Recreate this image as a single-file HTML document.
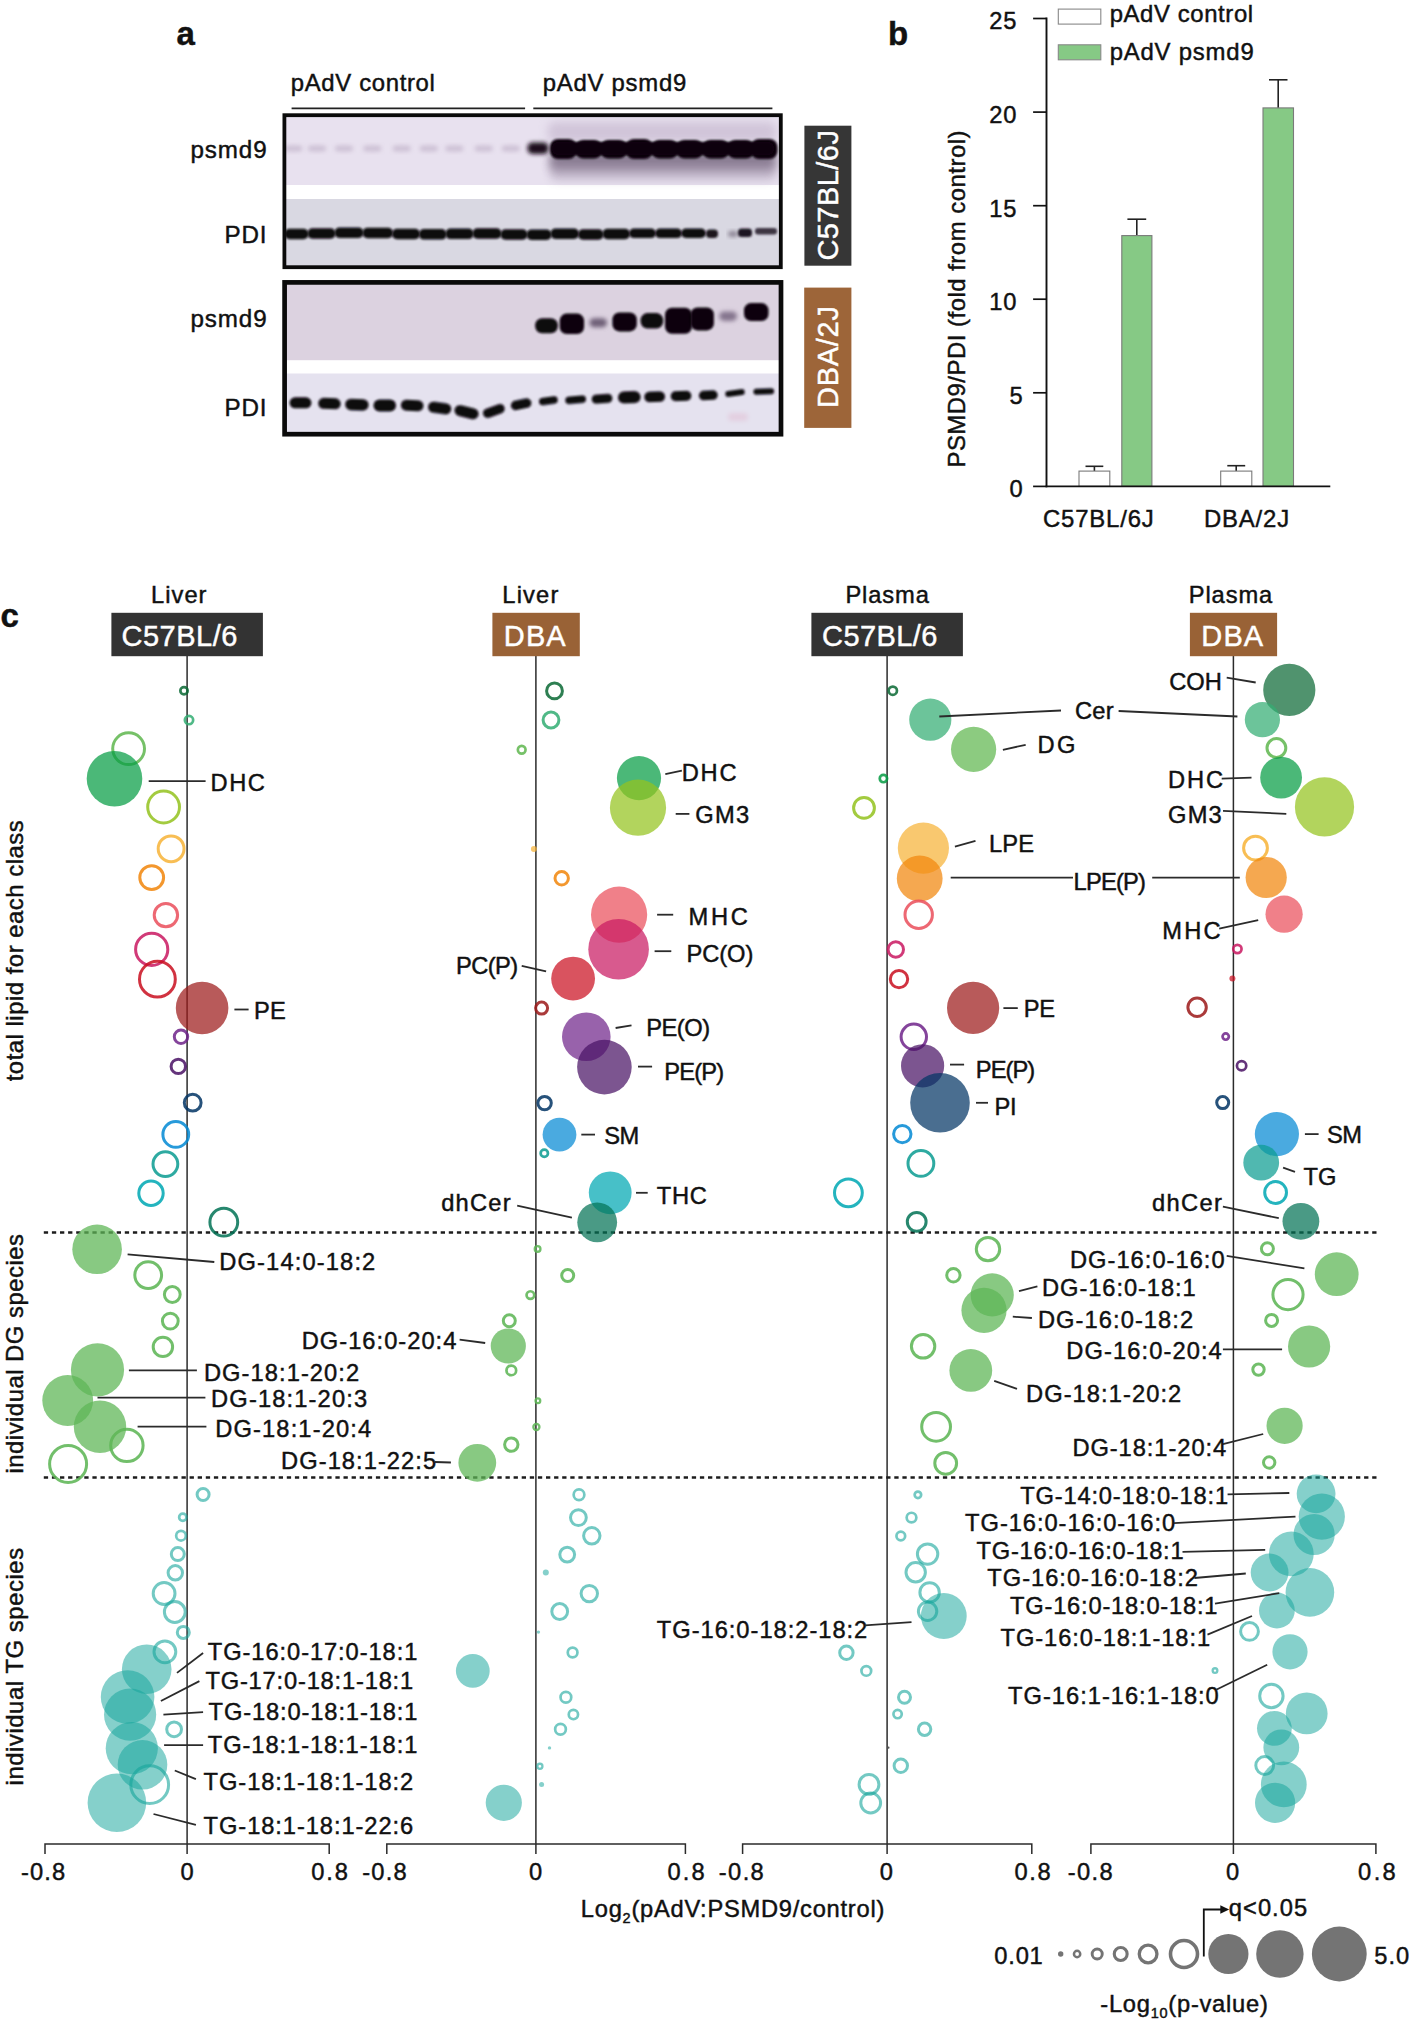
<!DOCTYPE html>
<html><head><meta charset="utf-8"><title>Figure</title>
<style>
html,body{margin:0;padding:0;background:#fff;}
svg{display:block;font-family:"Liberation Sans",Arial,Helvetica,sans-serif;}
text{stroke:#111;stroke-width:.45px;}
text.w{stroke:#fff;}
</style></head><body>
<svg width="1409" height="2025" viewBox="0 0 1409 2025">
<defs>
<filter id="b1" x="-20%" y="-50%" width="140%" height="200%"><feGaussianBlur stdDeviation="1.3"/></filter>
<filter id="b2" x="-20%" y="-50%" width="140%" height="200%"><feGaussianBlur stdDeviation="2.2"/></filter>
<filter id="b3" x="-20%" y="-80%" width="140%" height="260%"><feGaussianBlur stdDeviation="5"/></filter>
<clipPath id="cpA"><rect x="284" y="115" width="497" height="152"/></clipPath>
<clipPath id="cpB"><rect x="284" y="282" width="497" height="152"/></clipPath>
</defs>
<rect width="1409" height="2025" fill="#fff"/>
<text x="176.5" y="44.7" font-size="33" font-weight="bold" fill="#111">a</text>
<text x="888" y="44.7" font-size="33" font-weight="bold" fill="#111">b</text>
<text x="0.5" y="627" font-size="33" font-weight="bold" fill="#111">c</text>
<text x="290.8" y="91.2" font-size="23.9" fill="#111" textLength="144.0" lengthAdjust="spacing">pAdV control</text>
<text x="542.8" y="91.0" font-size="23.9" fill="#111" textLength="143.4" lengthAdjust="spacing">pAdV psmd9</text>
<line x1="291.6" y1="108.4" x2="525.1" y2="108.4" stroke="#222" stroke-width="1.8"/>
<line x1="533.3" y1="108.4" x2="772.4" y2="108.4" stroke="#222" stroke-width="1.8"/>
<text x="190.4" y="157.9" font-size="24.2" fill="#111" textLength="76.2" lengthAdjust="spacing">psmd9</text>
<text x="224.5" y="243.1" font-size="24.2" fill="#111" textLength="41.9" lengthAdjust="spacing">PDI</text>
<text x="190.4" y="327.0" font-size="24.2" fill="#111" textLength="76.2" lengthAdjust="spacing">psmd9</text>
<text x="224.5" y="415.9" font-size="24.2" fill="#111" textLength="41.9" lengthAdjust="spacing">PDI</text>
<g clip-path="url(#cpA)">
<rect x="284" y="115" width="497" height="71" fill="#e8e1ef"/>
<rect x="284" y="185" width="497" height="14.5" fill="#ffffff"/>
<rect x="284" y="199" width="497" height="68" fill="#d9d8e2"/>
<rect x="284.3" y="145.5" width="18" height="6" rx="3" fill="#c4b6cc" opacity="0.75" filter="url(#b2)"/>
<rect x="308.0" y="145.5" width="18" height="6" rx="3" fill="#c4b6cc" opacity="0.75" filter="url(#b2)"/>
<rect x="335.0" y="145.5" width="18" height="6" rx="3" fill="#c4b6cc" opacity="0.75" filter="url(#b2)"/>
<rect x="363.3" y="145.5" width="18" height="6" rx="3" fill="#c4b6cc" opacity="0.75" filter="url(#b2)"/>
<rect x="392.7" y="145.5" width="18" height="6" rx="3" fill="#c4b6cc" opacity="0.75" filter="url(#b2)"/>
<rect x="419.8" y="145.5" width="18" height="6" rx="3" fill="#c4b6cc" opacity="0.75" filter="url(#b2)"/>
<rect x="445.3" y="145.5" width="18" height="6" rx="3" fill="#c4b6cc" opacity="0.75" filter="url(#b2)"/>
<rect x="474.7" y="145.5" width="18" height="6" rx="3" fill="#c4b6cc" opacity="0.75" filter="url(#b2)"/>
<rect x="501.8" y="145.5" width="18" height="6" rx="3" fill="#c4b6cc" opacity="0.75" filter="url(#b2)"/>
<rect x="550" y="150" width="226" height="20" rx="6" fill="#5d4d66" opacity="0.7" filter="url(#b3)"/>
<rect x="550" y="160" width="226" height="20" rx="6" fill="#9a8aa3" opacity="0.45" filter="url(#b3)"/>
<rect x="548" y="122" width="228" height="20" rx="6" fill="#b9a9c2" opacity="0.5" filter="url(#b3)"/>
<rect x="527.5" y="142.5" width="21" height="11.5" rx="5" fill="#1a0f1c" filter="url(#b2)"/>
<rect x="550.0" y="139" width="26.5" height="20.0" rx="8" fill="#0c050d" filter="url(#b1)"/>
<rect x="575.5" y="140" width="26.5" height="18.5" rx="8" fill="#0c050d" filter="url(#b1)"/>
<rect x="600.5" y="140" width="26.5" height="18.5" rx="8" fill="#0c050d" filter="url(#b1)"/>
<rect x="626.0" y="139" width="26.5" height="20.0" rx="8" fill="#0c050d" filter="url(#b1)"/>
<rect x="651.5" y="140" width="26.5" height="18.5" rx="8" fill="#0c050d" filter="url(#b1)"/>
<rect x="676.5" y="140" width="26.5" height="18.5" rx="8" fill="#0c050d" filter="url(#b1)"/>
<rect x="702.5" y="140" width="26.5" height="18.5" rx="8" fill="#0c050d" filter="url(#b1)"/>
<rect x="727.5" y="140" width="26.5" height="18.5" rx="8" fill="#0c050d" filter="url(#b1)"/>
<rect x="751.0" y="139" width="26.5" height="20.0" rx="8" fill="#0c050d" filter="url(#b1)"/>
<rect x="552" y="142" width="222" height="13" rx="6" fill="#0c050d" filter="url(#b1)"/>
<rect x="284.5" y="228.8" width="24.0" height="10.5" rx="5" fill="#0d080f" filter="url(#b1)"/>
<rect x="307.5" y="228.3" width="28.0" height="10.5" rx="5" fill="#0d080f" filter="url(#b1)"/>
<rect x="334.5" y="227.5" width="29.0" height="10.5" rx="5" fill="#0d080f" filter="url(#b1)"/>
<rect x="362.5" y="227.8" width="30.5" height="10.5" rx="5" fill="#0d080f" filter="url(#b1)"/>
<rect x="392.0" y="228.8" width="28.0" height="10.5" rx="5" fill="#0d080f" filter="url(#b1)"/>
<rect x="419.0" y="229.1" width="27.5" height="10.5" rx="5" fill="#0d080f" filter="url(#b1)"/>
<rect x="445.5" y="228.6" width="28.0" height="10.5" rx="5" fill="#0d080f" filter="url(#b1)"/>
<rect x="472.5" y="228.3" width="29.0" height="10.5" rx="5" fill="#0d080f" filter="url(#b1)"/>
<rect x="500.5" y="229.3" width="27.0" height="10.5" rx="5" fill="#0d080f" filter="url(#b1)"/>
<rect x="526.5" y="229.5" width="25.0" height="10.5" rx="5" fill="#0d080f" filter="url(#b1)"/>
<rect x="550.5" y="228.5" width="28.5" height="10.5" rx="5" fill="#0d080f" filter="url(#b1)"/>
<rect x="578.0" y="229.3" width="25.5" height="10.5" rx="5" fill="#0d080f" filter="url(#b1)"/>
<rect x="602.5" y="228.8" width="27.5" height="10.5" rx="5" fill="#0d080f" filter="url(#b1)"/>
<rect x="629.0" y="228.6" width="27.0" height="9.5" rx="5" fill="#0d080f" filter="url(#b1)"/>
<rect x="655.0" y="228.6" width="27.0" height="9.5" rx="5" fill="#0d080f" filter="url(#b1)"/>
<rect x="681.0" y="228.5" width="25.0" height="9.5" rx="5" fill="#0d080f" filter="url(#b1)"/>
<rect x="706" y="229.5" width="12" height="8.5" rx="4" fill="#1b141e" filter="url(#b1)"/>
<rect x="728" y="231" width="10" height="6" rx="3" fill="#8e8796" filter="url(#b2)"/>
<rect x="738" y="228.5" width="14" height="8.5" rx="3.5" fill="#1f1823" filter="url(#b1)"/>
<rect x="755" y="228" width="22" height="6.5" rx="3" fill="#3c3442" filter="url(#b1)"/>
</g>
<rect x="284.4" y="115.2" width="496.4" height="152" fill="none" stroke="#0a0a0a" stroke-width="3.8"/>
<g clip-path="url(#cpB)">
<rect x="284" y="282" width="497" height="79" fill="#dcd2e0"/>
<rect x="284" y="360.2" width="497" height="13.6" fill="#ffffff"/>
<rect x="284" y="373.5" width="497" height="61" fill="#e5e2ef"/>
<rect x="535.2" y="318.2" width="22.6" height="15" rx="7.0" fill="#0e0710" filter="url(#b1)"/>
<rect x="559.7" y="313.6" width="24.4" height="20.5" rx="7.0" fill="#0b050c" filter="url(#b1)"/>
<rect x="589.5" y="318.2" width="17.5" height="9" rx="4.5" fill="#6f6078" filter="url(#b2)"/>
<rect x="612.4" y="312.4" width="24.4" height="19" rx="7.0" fill="#0b050c" filter="url(#b1)"/>
<rect x="640.6" y="313.1" width="22.6" height="15.5" rx="7.0" fill="#0e0710" filter="url(#b1)"/>
<rect x="665.0" y="307.8" width="27.0" height="26" rx="7.0" fill="#0a040b" filter="url(#b1)"/>
<rect x="690.5" y="307.4" width="23.4" height="23" rx="7.0" fill="#0a040b" filter="url(#b1)"/>
<rect x="719.2" y="311.4" width="17.8" height="9.5" rx="4.8" fill="#85768e" filter="url(#b2)"/>
<rect x="744.0" y="303.1" width="24.5" height="18" rx="7.0" fill="#0b050c" filter="url(#b1)"/>
<rect x="289.6" y="397.3" width="21.8" height="11" rx="5.5" fill="#0c070e" filter="url(#b1)" transform="rotate(0 300.5 402.8)"/>
<rect x="318.2" y="398.1" width="22.5" height="11" rx="5.5" fill="#0c070e" filter="url(#b1)" transform="rotate(2 329.4 403.6)"/>
<rect x="345.2" y="398.9" width="23.4" height="11.5" rx="5.8" fill="#0c070e" filter="url(#b1)" transform="rotate(2 356.9 404.7)"/>
<rect x="373.5" y="399.4" width="22.5" height="12" rx="6.0" fill="#0c070e" filter="url(#b1)" transform="rotate(0 384.8 405.4)"/>
<rect x="400.9" y="399.9" width="22.6" height="11" rx="5.5" fill="#0c070e" filter="url(#b1)" transform="rotate(3 412.2 405.4)"/>
<rect x="428.0" y="402.5" width="23.3" height="11" rx="5.5" fill="#0c070e" filter="url(#b1)" transform="rotate(8 439.6 408.0)"/>
<rect x="454.3" y="406.7" width="24.5" height="11" rx="5.5" fill="#0c070e" filter="url(#b1)" transform="rotate(14 466.6 412.2)"/>
<rect x="482.6" y="406.2" width="22.5" height="9.5" rx="4.8" fill="#0c070e" filter="url(#b1)" transform="rotate(-20 493.9 411.0)"/>
<rect x="510.8" y="399.6" width="20.7" height="9.5" rx="4.8" fill="#0c070e" filter="url(#b1)" transform="rotate(-12 521.1 404.3)"/>
<rect x="539.0" y="397.1" width="18.8" height="7.5" rx="3.8" fill="#0c070e" filter="url(#b1)" transform="rotate(-8 548.4 400.9)"/>
<rect x="565.3" y="396.1" width="20.7" height="7.5" rx="3.8" fill="#0c070e" filter="url(#b1)" transform="rotate(-5 575.6 399.8)"/>
<rect x="591.7" y="394.2" width="20.7" height="9" rx="4.5" fill="#0c070e" filter="url(#b1)" transform="rotate(-4 602.0 398.7)"/>
<rect x="618.0" y="391.2" width="22.6" height="12" rx="6.0" fill="#0c070e" filter="url(#b1)" transform="rotate(-2 629.3 397.2)"/>
<rect x="644.3" y="391.6" width="20.7" height="10.5" rx="5.2" fill="#0c070e" filter="url(#b1)" transform="rotate(-2 654.6 396.8)"/>
<rect x="670.7" y="391.0" width="20.7" height="10" rx="5.0" fill="#0c070e" filter="url(#b1)" transform="rotate(-2 681.0 396.0)"/>
<rect x="698.9" y="390.6" width="18.8" height="9.5" rx="4.8" fill="#0c070e" filter="url(#b1)" transform="rotate(-3 708.3 395.3)"/>
<rect x="725.2" y="390.0" width="19.6" height="6" rx="3.0" fill="#0c070e" filter="url(#b1)" transform="rotate(-8 735.0 393.0)"/>
<rect x="753.4" y="388.5" width="20.7" height="6" rx="3.0" fill="#0c070e" filter="url(#b1)" transform="rotate(-2 763.8 391.5)"/>
<rect x="728" y="413" width="20" height="8" rx="4" fill="#e3cfe0" filter="url(#b2)"/>
</g>
<rect x="284.6" y="282.4" width="496.4" height="151.8" fill="none" stroke="#0a0a0a" stroke-width="4.7"/>
<rect x="804.4" y="125.7" width="47" height="140" fill="#363636"/>
<text transform="translate(838.4 260.6) rotate(-90)" font-size="29" fill="#fff" class="w" textLength="130.5" lengthAdjust="spacing">C57BL/6J</text>
<rect x="804.2" y="287.6" width="47.2" height="140.3" fill="#9d6539"/>
<text transform="translate(838.2 408) rotate(-90)" font-size="29" fill="#fff" class="w" textLength="102" lengthAdjust="spacing">DBA/2J</text>
<line x1="1046.5" y1="17.6" x2="1046.5" y2="487.2" stroke="#111" stroke-width="1.9"/>
<line x1="1033.1" y1="486.4" x2="1046.5" y2="486.4" stroke="#111" stroke-width="1.7"/>
<text x="1023.6" y="497.3" font-size="23.7" fill="#111" text-anchor="end" letter-spacing="0.9">0</text>
<line x1="1033.1" y1="392.8" x2="1046.5" y2="392.8" stroke="#111" stroke-width="1.7"/>
<text x="1023.6" y="403.7" font-size="23.7" fill="#111" text-anchor="end" letter-spacing="0.9">5</text>
<line x1="1033.1" y1="299.2" x2="1046.5" y2="299.2" stroke="#111" stroke-width="1.7"/>
<text x="1017.4" y="310.1" font-size="23.7" fill="#111" text-anchor="end" letter-spacing="0.9">10</text>
<line x1="1033.1" y1="205.7" x2="1046.5" y2="205.7" stroke="#111" stroke-width="1.7"/>
<text x="1017.4" y="216.6" font-size="23.7" fill="#111" text-anchor="end" letter-spacing="0.9">15</text>
<line x1="1033.1" y1="112.1" x2="1046.5" y2="112.1" stroke="#111" stroke-width="1.7"/>
<text x="1017.4" y="123.0" font-size="23.7" fill="#111" text-anchor="end" letter-spacing="0.9">20</text>
<line x1="1033.1" y1="18.5" x2="1046.5" y2="18.5" stroke="#111" stroke-width="1.7"/>
<text x="1017.4" y="29.4" font-size="23.7" fill="#111" text-anchor="end" letter-spacing="0.9">25</text>
<line x1="1094.4" y1="471.1" x2="1094.4" y2="466.3" stroke="#222" stroke-width="1.6"/>
<line x1="1085.5" y1="466.3" x2="1103.3" y2="466.3" stroke="#222" stroke-width="1.6"/>
<rect x="1079.0" y="471.1" width="30.8" height="15.3" fill="#ffffff" stroke="#7a7a7a" stroke-width="1.1"/>
<line x1="1136.8" y1="235.6" x2="1136.8" y2="219.2" stroke="#222" stroke-width="1.6"/>
<line x1="1127.4" y1="219.2" x2="1146.2" y2="219.2" stroke="#222" stroke-width="1.6"/>
<rect x="1121.8" y="235.6" width="30.1" height="250.8" fill="#86c985" stroke="#7a7a7a" stroke-width="1.1"/>
<line x1="1236.2" y1="471.1" x2="1236.2" y2="465.7" stroke="#222" stroke-width="1.6"/>
<line x1="1227.3" y1="465.7" x2="1245.2" y2="465.7" stroke="#222" stroke-width="1.6"/>
<rect x="1220.7" y="471.1" width="31.1" height="15.3" fill="#ffffff" stroke="#7a7a7a" stroke-width="1.1"/>
<line x1="1278.2" y1="107.9" x2="1278.2" y2="79.8" stroke="#222" stroke-width="1.6"/>
<line x1="1269.0" y1="79.8" x2="1287.5" y2="79.8" stroke="#222" stroke-width="1.6"/>
<rect x="1263.0" y="107.9" width="30.5" height="378.5" fill="#86c985" stroke="#7a7a7a" stroke-width="1.1"/>
<line x1="1045.7" y1="486.4" x2="1330.3" y2="486.4" stroke="#111" stroke-width="1.7"/>
<rect x="1058.3" y="9.1" width="42.5" height="15" fill="#fff" stroke="#888" stroke-width="1.1"/>
<rect x="1058.3" y="44.8" width="42.5" height="15" fill="#86c985" stroke="#888" stroke-width="1.1"/>
<text x="1109.7" y="21.9" font-size="23.9" fill="#111" textLength="143.4" lengthAdjust="spacing">pAdV control</text>
<text x="1109.7" y="60.2" font-size="23.9" fill="#111" textLength="144.0" lengthAdjust="spacing">pAdV psmd9</text>
<text x="1043.0" y="527.3" font-size="23.9" fill="#111" textLength="110.8" lengthAdjust="spacing">C57BL/6J</text>
<text x="1203.9" y="527.3" font-size="23.9" fill="#111" textLength="85.3" lengthAdjust="spacing">DBA/2J</text>
<text transform="translate(964.9 467.5) rotate(-90)" font-size="23.9" fill="#111" textLength="337" lengthAdjust="spacing">PSMD9/PDI (fold from control)</text>
<line x1="187.1" y1="656.0" x2="187.1" y2="1844.0" stroke="#2b2b2b" stroke-width="1.5"/>
<path d="M45.0 1854 V1844 H329.2 V1854" fill="none" stroke="#2b2b2b" stroke-width="1.5"/>
<line x1="187.1" y1="1844.0" x2="187.1" y2="1854.0" stroke="#2b2b2b" stroke-width="1.5"/>
<line x1="535.9" y1="656.0" x2="535.9" y2="1844.0" stroke="#2b2b2b" stroke-width="1.5"/>
<path d="M386.8 1854 V1844 H685.4 V1854" fill="none" stroke="#2b2b2b" stroke-width="1.5"/>
<line x1="535.9" y1="1844.0" x2="535.9" y2="1854.0" stroke="#2b2b2b" stroke-width="1.5"/>
<line x1="887.1" y1="656.0" x2="887.1" y2="1844.0" stroke="#2b2b2b" stroke-width="1.5"/>
<path d="M742.6 1854 V1844 H1031.8 V1854" fill="none" stroke="#2b2b2b" stroke-width="1.5"/>
<line x1="887.1" y1="1844.0" x2="887.1" y2="1854.0" stroke="#2b2b2b" stroke-width="1.5"/>
<line x1="1233.4" y1="656.0" x2="1233.4" y2="1844.0" stroke="#2b2b2b" stroke-width="1.5"/>
<path d="M1090.9 1854 V1844 H1375.9 V1854" fill="none" stroke="#2b2b2b" stroke-width="1.5"/>
<line x1="1233.4" y1="1844.0" x2="1233.4" y2="1854.0" stroke="#2b2b2b" stroke-width="1.5"/>
<line x1="43.8" y1="1232.6" x2="1377" y2="1232.6" stroke="#1c1c1c" stroke-width="2.5" stroke-dasharray="4.3 3.8"/>
<line x1="43.8" y1="1477.6" x2="1377" y2="1477.6" stroke="#1c1c1c" stroke-width="2.5" stroke-dasharray="4.3 3.8"/>
<circle cx="184.0" cy="690.8" r="3.65" fill="none" stroke="#0c6a36" stroke-width="2.7" stroke-opacity="0.86"/>
<circle cx="189.0" cy="720.1" r="4.15" fill="none" stroke="#33ad73" stroke-width="2.7" stroke-opacity="0.86"/>
<circle cx="128.6" cy="748.7" r="15.90" fill="none" stroke="#5fb74f" stroke-width="3.0" stroke-opacity="0.86"/>
<circle cx="114.5" cy="778.7" r="27.8" fill="#069c44" fill-opacity="0.72"/>
<circle cx="163.6" cy="807.0" r="15.90" fill="none" stroke="#94c31f" stroke-width="3.0" stroke-opacity="0.86"/>
<circle cx="171.1" cy="848.8" r="12.90" fill="none" stroke="#f7b338" stroke-width="3.0" stroke-opacity="0.86"/>
<circle cx="151.7" cy="877.6" r="11.90" fill="none" stroke="#f1860c" stroke-width="3.0" stroke-opacity="0.86"/>
<circle cx="165.9" cy="915.1" r="11.70" fill="none" stroke="#ea4f5c" stroke-width="3.0" stroke-opacity="0.86"/>
<circle cx="151.7" cy="949.4" r="16.10" fill="none" stroke="#c91a62" stroke-width="3.0" stroke-opacity="0.86"/>
<circle cx="157.4" cy="979.2" r="17.90" fill="none" stroke="#ca1021" stroke-width="3.0" stroke-opacity="0.86"/>
<circle cx="202.1" cy="1008.0" r="26.3" fill="#9c1a1a" fill-opacity="0.72"/>
<circle cx="181.0" cy="1036.8" r="6.70" fill="none" stroke="#70258a" stroke-width="3.0" stroke-opacity="0.86"/>
<circle cx="178.3" cy="1066.4" r="7.20" fill="none" stroke="#4a1365" stroke-width="3.0" stroke-opacity="0.86"/>
<circle cx="192.7" cy="1102.7" r="8.40" fill="none" stroke="#043665" stroke-width="3.0" stroke-opacity="0.86"/>
<circle cx="175.8" cy="1134.4" r="12.90" fill="none" stroke="#0489d4" stroke-width="3.0" stroke-opacity="0.86"/>
<circle cx="165.4" cy="1164.1" r="12.40" fill="none" stroke="#0c9c91" stroke-width="3.0" stroke-opacity="0.86"/>
<circle cx="151.0" cy="1193.2" r="12.20" fill="none" stroke="#00a8b3" stroke-width="3.0" stroke-opacity="0.86"/>
<circle cx="223.8" cy="1222.2" r="13.90" fill="none" stroke="#047356" stroke-width="3.0" stroke-opacity="0.86"/>
<circle cx="97.1" cy="1249.3" r="24.8" fill="#5eb656" fill-opacity="0.74"/>
<circle cx="148.2" cy="1275.1" r="13.40" fill="none" stroke="#5eb656" stroke-width="3.0" stroke-opacity="0.88"/>
<circle cx="172.3" cy="1294.5" r="7.90" fill="none" stroke="#5eb656" stroke-width="3.0" stroke-opacity="0.88"/>
<circle cx="170.3" cy="1321.1" r="7.90" fill="none" stroke="#5eb656" stroke-width="3.0" stroke-opacity="0.88"/>
<circle cx="162.9" cy="1346.9" r="9.70" fill="none" stroke="#5eb656" stroke-width="3.0" stroke-opacity="0.88"/>
<circle cx="97.5" cy="1369.8" r="26.6" fill="#5eb656" fill-opacity="0.74"/>
<circle cx="67.7" cy="1400.5" r="25.4" fill="#5eb656" fill-opacity="0.74"/>
<circle cx="100.0" cy="1426.7" r="26.2" fill="#5eb656" fill-opacity="0.74"/>
<circle cx="126.9" cy="1445.4" r="16.20" fill="none" stroke="#5eb656" stroke-width="3.0" stroke-opacity="0.88"/>
<circle cx="68.1" cy="1463.9" r="18.50" fill="none" stroke="#5eb656" stroke-width="3.0" stroke-opacity="0.88"/>
<circle cx="203.1" cy="1494.5" r="6.00" fill="none" stroke="#16a59b" stroke-width="3.0" stroke-opacity="0.6"/>
<circle cx="182.8" cy="1517.3" r="3.65" fill="none" stroke="#16a59b" stroke-width="2.7" stroke-opacity="0.6"/>
<circle cx="181.0" cy="1535.7" r="4.85" fill="none" stroke="#16a59b" stroke-width="2.7" stroke-opacity="0.6"/>
<circle cx="177.8" cy="1554.1" r="6.50" fill="none" stroke="#16a59b" stroke-width="3.0" stroke-opacity="0.6"/>
<circle cx="175.3" cy="1572.8" r="7.20" fill="none" stroke="#16a59b" stroke-width="3.0" stroke-opacity="0.6"/>
<circle cx="164.1" cy="1593.5" r="10.90" fill="none" stroke="#16a59b" stroke-width="3.0" stroke-opacity="0.6"/>
<circle cx="174.8" cy="1612.0" r="10.40" fill="none" stroke="#16a59b" stroke-width="3.0" stroke-opacity="0.6"/>
<circle cx="183.3" cy="1632.4" r="6.00" fill="none" stroke="#16a59b" stroke-width="3.0" stroke-opacity="0.6"/>
<circle cx="164.9" cy="1651.8" r="10.90" fill="none" stroke="#16a59b" stroke-width="3.0" stroke-opacity="0.6"/>
<circle cx="146.7" cy="1669.2" r="24.8" fill="#16a59b" fill-opacity="0.52"/>
<circle cx="127.6" cy="1697.0" r="26.8" fill="#16a59b" fill-opacity="0.52"/>
<circle cx="130.1" cy="1714.6" r="26.1" fill="#16a59b" fill-opacity="0.52"/>
<circle cx="174.1" cy="1729.3" r="7.40" fill="none" stroke="#16a59b" stroke-width="3.0" stroke-opacity="0.6"/>
<circle cx="131.8" cy="1748.2" r="26.1" fill="#16a59b" fill-opacity="0.52"/>
<circle cx="142.5" cy="1764.8" r="24.8" fill="#16a59b" fill-opacity="0.52"/>
<circle cx="149.7" cy="1784.7" r="18.90" fill="none" stroke="#16a59b" stroke-width="3.0" stroke-opacity="0.6"/>
<circle cx="116.9" cy="1802.8" r="29.3" fill="#16a59b" fill-opacity="0.52"/>
<circle cx="554.5" cy="690.9" r="7.90" fill="none" stroke="#0c6a36" stroke-width="3.0" stroke-opacity="0.86"/>
<circle cx="551.0" cy="720.0" r="7.90" fill="none" stroke="#33ad73" stroke-width="3.0" stroke-opacity="0.86"/>
<circle cx="521.7" cy="749.8" r="3.85" fill="none" stroke="#5fb74f" stroke-width="2.7" stroke-opacity="0.86"/>
<circle cx="639.0" cy="778.1" r="22.1" fill="#069c44" fill-opacity="0.72"/>
<circle cx="638.0" cy="807.7" r="28.1" fill="#94c31f" fill-opacity="0.72"/>
<circle cx="533.9" cy="848.9" r="3.0" fill="#f7b338" fill-opacity="0.72"/>
<circle cx="561.7" cy="878.2" r="6.70" fill="none" stroke="#f1860c" stroke-width="3.0" stroke-opacity="0.86"/>
<circle cx="619.1" cy="914.7" r="28.1" fill="#ea4f5c" fill-opacity="0.72"/>
<circle cx="618.6" cy="949.2" r="30.3" fill="#c91a62" fill-opacity="0.72"/>
<circle cx="573.1" cy="978.6" r="21.9" fill="#ca1021" fill-opacity="0.72"/>
<circle cx="541.6" cy="1008.1" r="6.00" fill="none" stroke="#9c1a1a" stroke-width="3.0" stroke-opacity="0.86"/>
<circle cx="586.3" cy="1036.8" r="24.3" fill="#70258a" fill-opacity="0.72"/>
<circle cx="604.4" cy="1067.1" r="27.3" fill="#4a1365" fill-opacity="0.72"/>
<circle cx="544.6" cy="1103.1" r="6.70" fill="none" stroke="#043665" stroke-width="3.0" stroke-opacity="0.86"/>
<circle cx="559.5" cy="1134.6" r="16.9" fill="#0489d4" fill-opacity="0.72"/>
<circle cx="544.3" cy="1153.3" r="3.65" fill="none" stroke="#0c9c91" stroke-width="2.7" stroke-opacity="0.86"/>
<circle cx="610.2" cy="1192.8" r="21.4" fill="#00a8b3" fill-opacity="0.72"/>
<circle cx="597.2" cy="1222.3" r="19.9" fill="#047356" fill-opacity="0.72"/>
<circle cx="537.6" cy="1248.9" r="2.85" fill="none" stroke="#5eb656" stroke-width="2.3" stroke-opacity="0.88"/>
<circle cx="567.7" cy="1275.5" r="6.00" fill="none" stroke="#5eb656" stroke-width="3.0" stroke-opacity="0.88"/>
<circle cx="530.4" cy="1295.1" r="3.85" fill="none" stroke="#5eb656" stroke-width="2.7" stroke-opacity="0.88"/>
<circle cx="509.3" cy="1320.7" r="6.00" fill="none" stroke="#5eb656" stroke-width="3.0" stroke-opacity="0.88"/>
<circle cx="508.3" cy="1346.0" r="17.6" fill="#5eb656" fill-opacity="0.74"/>
<circle cx="511.3" cy="1370.4" r="4.85" fill="none" stroke="#5eb656" stroke-width="2.7" stroke-opacity="0.88"/>
<circle cx="537.9" cy="1400.7" r="2.35" fill="none" stroke="#5eb656" stroke-width="2.3" stroke-opacity="0.88"/>
<circle cx="536.4" cy="1427.0" r="3.05" fill="none" stroke="#5eb656" stroke-width="2.3" stroke-opacity="0.88"/>
<circle cx="511.3" cy="1444.6" r="6.70" fill="none" stroke="#5eb656" stroke-width="3.0" stroke-opacity="0.88"/>
<circle cx="477.3" cy="1462.8" r="18.9" fill="#5eb656" fill-opacity="0.74"/>
<circle cx="579.0" cy="1494.8" r="5.35" fill="none" stroke="#16a59b" stroke-width="2.7" stroke-opacity="0.6"/>
<circle cx="578.4" cy="1517.6" r="7.90" fill="none" stroke="#16a59b" stroke-width="3.0" stroke-opacity="0.6"/>
<circle cx="591.8" cy="1535.8" r="8.20" fill="none" stroke="#16a59b" stroke-width="3.0" stroke-opacity="0.6"/>
<circle cx="567.2" cy="1554.6" r="7.40" fill="none" stroke="#16a59b" stroke-width="3.0" stroke-opacity="0.6"/>
<circle cx="545.8" cy="1572.5" r="3.0" fill="#16a59b" fill-opacity="0.52"/>
<circle cx="589.3" cy="1593.6" r="8.20" fill="none" stroke="#16a59b" stroke-width="3.0" stroke-opacity="0.6"/>
<circle cx="559.7" cy="1611.5" r="7.90" fill="none" stroke="#16a59b" stroke-width="3.0" stroke-opacity="0.6"/>
<circle cx="538.4" cy="1632.1" r="1.7" fill="#16a59b" fill-opacity="0.52"/>
<circle cx="572.6" cy="1652.5" r="4.85" fill="none" stroke="#16a59b" stroke-width="2.7" stroke-opacity="0.6"/>
<circle cx="472.8" cy="1670.9" r="16.9" fill="#16a59b" fill-opacity="0.52"/>
<circle cx="565.9" cy="1697.2" r="5.35" fill="none" stroke="#16a59b" stroke-width="2.7" stroke-opacity="0.6"/>
<circle cx="573.4" cy="1714.6" r="4.65" fill="none" stroke="#16a59b" stroke-width="2.7" stroke-opacity="0.6"/>
<circle cx="560.5" cy="1729.3" r="5.35" fill="none" stroke="#16a59b" stroke-width="2.7" stroke-opacity="0.6"/>
<circle cx="549.5" cy="1747.9" r="1.7" fill="#16a59b" fill-opacity="0.52"/>
<circle cx="539.9" cy="1766.3" r="2.55" fill="none" stroke="#16a59b" stroke-width="2.3" stroke-opacity="0.6"/>
<circle cx="541.6" cy="1784.4" r="2.5" fill="#16a59b" fill-opacity="0.52"/>
<circle cx="503.8" cy="1802.8" r="18.1" fill="#16a59b" fill-opacity="0.52"/>
<circle cx="892.8" cy="690.7" r="4.15" fill="none" stroke="#0c6a36" stroke-width="2.7" stroke-opacity="0.86"/>
<circle cx="930.3" cy="719.7" r="21.1" fill="#33ad73" fill-opacity="0.72"/>
<circle cx="973.6" cy="749.3" r="22.6" fill="#5fb74f" fill-opacity="0.72"/>
<circle cx="883.4" cy="778.6" r="3.65" fill="none" stroke="#069c44" stroke-width="2.7" stroke-opacity="0.86"/>
<circle cx="864.0" cy="807.9" r="10.40" fill="none" stroke="#94c31f" stroke-width="3.0" stroke-opacity="0.86"/>
<circle cx="923.4" cy="848.1" r="25.6" fill="#f7b338" fill-opacity="0.72"/>
<circle cx="919.7" cy="878.5" r="22.9" fill="#f1860c" fill-opacity="0.72"/>
<circle cx="918.7" cy="914.7" r="13.70" fill="none" stroke="#ea4f5c" stroke-width="3.0" stroke-opacity="0.86"/>
<circle cx="895.8" cy="949.5" r="7.70" fill="none" stroke="#c91a62" stroke-width="3.0" stroke-opacity="0.86"/>
<circle cx="899.0" cy="979.1" r="8.70" fill="none" stroke="#ca1021" stroke-width="3.0" stroke-opacity="0.86"/>
<circle cx="973.1" cy="1007.9" r="26.1" fill="#9c1a1a" fill-opacity="0.72"/>
<circle cx="913.8" cy="1036.8" r="12.70" fill="none" stroke="#70258a" stroke-width="3.0" stroke-opacity="0.86"/>
<circle cx="922.6" cy="1065.8" r="21.6" fill="#4a1365" fill-opacity="0.72"/>
<circle cx="940.0" cy="1102.8" r="29.8" fill="#043665" fill-opacity="0.72"/>
<circle cx="902.3" cy="1134.1" r="8.70" fill="none" stroke="#0489d4" stroke-width="3.0" stroke-opacity="0.86"/>
<circle cx="920.9" cy="1163.4" r="12.90" fill="none" stroke="#0c9c91" stroke-width="3.0" stroke-opacity="0.86"/>
<circle cx="848.4" cy="1192.8" r="13.90" fill="none" stroke="#00a8b3" stroke-width="3.0" stroke-opacity="0.86"/>
<circle cx="916.7" cy="1221.8" r="9.40" fill="none" stroke="#047356" stroke-width="3.0" stroke-opacity="0.86"/>
<circle cx="988.0" cy="1249.1" r="11.70" fill="none" stroke="#5eb656" stroke-width="3.0" stroke-opacity="0.88"/>
<circle cx="953.4" cy="1275.2" r="6.70" fill="none" stroke="#5eb656" stroke-width="3.0" stroke-opacity="0.88"/>
<circle cx="992.2" cy="1294.9" r="21.6" fill="#5eb656" fill-opacity="0.74"/>
<circle cx="984.0" cy="1310.3" r="22.6" fill="#5eb656" fill-opacity="0.74"/>
<circle cx="923.1" cy="1346.3" r="11.70" fill="none" stroke="#5eb656" stroke-width="3.0" stroke-opacity="0.88"/>
<circle cx="970.8" cy="1370.4" r="21.4" fill="#5eb656" fill-opacity="0.74"/>
<circle cx="936.1" cy="1426.8" r="14.40" fill="none" stroke="#5eb656" stroke-width="3.0" stroke-opacity="0.88"/>
<circle cx="945.7" cy="1463.3" r="10.90" fill="none" stroke="#5eb656" stroke-width="3.0" stroke-opacity="0.88"/>
<circle cx="917.9" cy="1494.8" r="3.25" fill="none" stroke="#16a59b" stroke-width="2.7" stroke-opacity="0.6"/>
<circle cx="911.5" cy="1517.6" r="4.85" fill="none" stroke="#16a59b" stroke-width="2.7" stroke-opacity="0.6"/>
<circle cx="900.8" cy="1536.0" r="4.35" fill="none" stroke="#16a59b" stroke-width="2.7" stroke-opacity="0.6"/>
<circle cx="927.6" cy="1554.1" r="10.20" fill="none" stroke="#16a59b" stroke-width="3.0" stroke-opacity="0.6"/>
<circle cx="915.7" cy="1572.3" r="9.70" fill="none" stroke="#16a59b" stroke-width="3.0" stroke-opacity="0.6"/>
<circle cx="929.6" cy="1592.4" r="9.70" fill="none" stroke="#16a59b" stroke-width="3.0" stroke-opacity="0.6"/>
<circle cx="927.6" cy="1611.3" r="9.20" fill="none" stroke="#16a59b" stroke-width="3.0" stroke-opacity="0.6"/>
<circle cx="943.8" cy="1616.0" r="22.9" fill="#16a59b" fill-opacity="0.52"/>
<circle cx="846.4" cy="1652.8" r="6.70" fill="none" stroke="#16a59b" stroke-width="3.0" stroke-opacity="0.6"/>
<circle cx="866.3" cy="1670.9" r="4.85" fill="none" stroke="#16a59b" stroke-width="2.7" stroke-opacity="0.6"/>
<circle cx="904.5" cy="1697.2" r="6.00" fill="none" stroke="#16a59b" stroke-width="3.0" stroke-opacity="0.6"/>
<circle cx="897.6" cy="1714.1" r="4.15" fill="none" stroke="#16a59b" stroke-width="2.7" stroke-opacity="0.6"/>
<circle cx="924.6" cy="1729.3" r="6.20" fill="none" stroke="#16a59b" stroke-width="3.0" stroke-opacity="0.6"/>
<circle cx="900.8" cy="1765.8" r="6.70" fill="none" stroke="#16a59b" stroke-width="3.0" stroke-opacity="0.6"/>
<circle cx="869.0" cy="1784.4" r="9.90" fill="none" stroke="#16a59b" stroke-width="3.0" stroke-opacity="0.6"/>
<circle cx="870.7" cy="1803.0" r="9.90" fill="none" stroke="#16a59b" stroke-width="3.0" stroke-opacity="0.6"/>
<circle cx="1289.3" cy="689.9" r="26.1" fill="#0c6a36" fill-opacity="0.72"/>
<circle cx="1262.4" cy="719.7" r="17.6" fill="#33ad73" fill-opacity="0.72"/>
<circle cx="1276.4" cy="748.0" r="9.40" fill="none" stroke="#5fb74f" stroke-width="3.0" stroke-opacity="0.86"/>
<circle cx="1281.1" cy="777.6" r="20.9" fill="#069c44" fill-opacity="0.72"/>
<circle cx="1324.5" cy="806.9" r="29.6" fill="#94c31f" fill-opacity="0.72"/>
<circle cx="1255.5" cy="848.1" r="11.90" fill="none" stroke="#f7b338" stroke-width="3.0" stroke-opacity="0.86"/>
<circle cx="1266.2" cy="877.5" r="20.6" fill="#f1860c" fill-opacity="0.72"/>
<circle cx="1284.1" cy="914.2" r="18.6" fill="#ea4f5c" fill-opacity="0.72"/>
<circle cx="1237.4" cy="949.0" r="4.15" fill="none" stroke="#c91a62" stroke-width="2.7" stroke-opacity="0.86"/>
<circle cx="1232.4" cy="978.6" r="3.0" fill="#ca1021" fill-opacity="0.72"/>
<circle cx="1197.1" cy="1007.3" r="9.20" fill="none" stroke="#9c1a1a" stroke-width="3.0" stroke-opacity="0.86"/>
<circle cx="1225.7" cy="1036.6" r="3.15" fill="none" stroke="#70258a" stroke-width="2.7" stroke-opacity="0.86"/>
<circle cx="1241.6" cy="1065.8" r="4.65" fill="none" stroke="#4a1365" stroke-width="2.7" stroke-opacity="0.86"/>
<circle cx="1222.7" cy="1102.6" r="6.00" fill="none" stroke="#043665" stroke-width="3.0" stroke-opacity="0.86"/>
<circle cx="1276.9" cy="1134.1" r="22.1" fill="#0489d4" fill-opacity="0.72"/>
<circle cx="1261.2" cy="1162.7" r="17.9" fill="#0c9c91" fill-opacity="0.72"/>
<circle cx="1275.6" cy="1192.5" r="10.90" fill="none" stroke="#00a8b3" stroke-width="3.0" stroke-opacity="0.86"/>
<circle cx="1300.9" cy="1221.3" r="18.4" fill="#047356" fill-opacity="0.72"/>
<circle cx="1267.4" cy="1248.7" r="6.00" fill="none" stroke="#5eb656" stroke-width="3.0" stroke-opacity="0.88"/>
<circle cx="1336.7" cy="1274.2" r="21.9" fill="#5eb656" fill-opacity="0.74"/>
<circle cx="1288.0" cy="1294.6" r="15.10" fill="none" stroke="#5eb656" stroke-width="3.0" stroke-opacity="0.88"/>
<circle cx="1271.6" cy="1320.4" r="6.00" fill="none" stroke="#5eb656" stroke-width="3.0" stroke-opacity="0.88"/>
<circle cx="1309.1" cy="1346.5" r="21.1" fill="#5eb656" fill-opacity="0.74"/>
<circle cx="1258.5" cy="1369.6" r="5.70" fill="none" stroke="#5eb656" stroke-width="3.0" stroke-opacity="0.88"/>
<circle cx="1284.6" cy="1425.8" r="18.1" fill="#5eb656" fill-opacity="0.74"/>
<circle cx="1269.2" cy="1462.5" r="5.70" fill="none" stroke="#5eb656" stroke-width="3.0" stroke-opacity="0.88"/>
<circle cx="1316.1" cy="1493.8" r="19.4" fill="#16a59b" fill-opacity="0.52"/>
<circle cx="1321.8" cy="1516.6" r="23.1" fill="#16a59b" fill-opacity="0.52"/>
<circle cx="1314.1" cy="1534.5" r="20.6" fill="#16a59b" fill-opacity="0.52"/>
<circle cx="1291.3" cy="1553.9" r="22.4" fill="#16a59b" fill-opacity="0.52"/>
<circle cx="1269.6" cy="1572.5" r="18.9" fill="#16a59b" fill-opacity="0.52"/>
<circle cx="1309.9" cy="1592.4" r="24.3" fill="#16a59b" fill-opacity="0.52"/>
<circle cx="1276.9" cy="1610.5" r="17.9" fill="#16a59b" fill-opacity="0.52"/>
<circle cx="1249.5" cy="1631.4" r="8.90" fill="none" stroke="#16a59b" stroke-width="3.0" stroke-opacity="0.6"/>
<circle cx="1290.0" cy="1651.8" r="17.6" fill="#16a59b" fill-opacity="0.52"/>
<circle cx="1215.0" cy="1670.6" r="2.35" fill="none" stroke="#16a59b" stroke-width="2.3" stroke-opacity="0.6"/>
<circle cx="1271.4" cy="1696.0" r="11.70" fill="none" stroke="#16a59b" stroke-width="3.0" stroke-opacity="0.6"/>
<circle cx="1306.7" cy="1713.4" r="20.9" fill="#16a59b" fill-opacity="0.52"/>
<circle cx="1274.4" cy="1728.3" r="17.4" fill="#16a59b" fill-opacity="0.52"/>
<circle cx="1281.3" cy="1747.4" r="17.9" fill="#16a59b" fill-opacity="0.52"/>
<circle cx="1264.7" cy="1765.5" r="8.90" fill="none" stroke="#16a59b" stroke-width="3.0" stroke-opacity="0.6"/>
<circle cx="1283.8" cy="1784.4" r="22.9" fill="#16a59b" fill-opacity="0.52"/>
<circle cx="1275.1" cy="1802.8" r="20.1" fill="#16a59b" fill-opacity="0.52"/>
<circle cx="888.4" cy="1747.7" r="1.1" fill="#555"/>
<text x="151.0" y="603.4" font-size="23.7" fill="#111" textLength="55.5" lengthAdjust="spacing">Liver</text>
<text x="502.3" y="603.4" font-size="23.7" fill="#111" textLength="56.0" lengthAdjust="spacing">Liver</text>
<text x="845.4" y="603.4" font-size="23.7" fill="#111" textLength="83.5" lengthAdjust="spacing">Plasma</text>
<text x="1188.7" y="603.4" font-size="23.7" fill="#111" textLength="83.5" lengthAdjust="spacing">Plasma</text>
<rect x="111.4" y="612.8" width="151.5" height="43.4" fill="#333333"/>
<text x="121.6" y="645.5" font-size="29" fill="#fff" textLength="115.7" lengthAdjust="spacing" class="w">C57BL/6</text>
<rect x="492.4" y="612.8" width="87.4" height="43.4" fill="#996236"/>
<text x="503.8" y="645.5" font-size="29" fill="#fff" textLength="61.9" lengthAdjust="spacing" class="w">DBA</text>
<rect x="811.4" y="612.8" width="151.5" height="43.4" fill="#333333"/>
<text x="822.0" y="645.5" font-size="29" fill="#fff" textLength="115.5" lengthAdjust="spacing" class="w">C57BL/6</text>
<rect x="1189.9" y="612.8" width="87.2" height="43.4" fill="#996236"/>
<text x="1201.3" y="645.5" font-size="29" fill="#fff" textLength="61.9" lengthAdjust="spacing" class="w">DBA</text>
<text x="210.6" y="791.2" font-size="23.7" fill="#111" textLength="54.2" lengthAdjust="spacing">DHC</text>
<line x1="148.7" y1="781.2" x2="205.6" y2="781.2" stroke="#2b2b2b" stroke-width="1.8"/>
<text x="254.1" y="1018.9" font-size="23.7" fill="#111" textLength="31.8" lengthAdjust="spacing">PE</text>
<line x1="234.4" y1="1009.5" x2="248.6" y2="1009.5" stroke="#2b2b2b" stroke-width="1.8"/>
<text x="219.3" y="1269.7" font-size="23.7" fill="#111" textLength="156.0" lengthAdjust="spacing">DG-14:0-18:2</text>
<line x1="127.6" y1="1254.3" x2="214.3" y2="1262.0" stroke="#2b2b2b" stroke-width="1.8"/>
<text x="203.9" y="1380.7" font-size="23.7" fill="#111" textLength="155.3" lengthAdjust="spacing">DG-18:1-20:2</text>
<line x1="128.9" y1="1370.3" x2="196.9" y2="1370.3" stroke="#2b2b2b" stroke-width="1.8"/>
<text x="211.1" y="1407.0" font-size="23.7" fill="#111" textLength="156.0" lengthAdjust="spacing">DG-18:1-20:3</text>
<line x1="97.5" y1="1397.6" x2="205.4" y2="1397.6" stroke="#2b2b2b" stroke-width="1.8"/>
<text x="215.3" y="1436.6" font-size="23.7" fill="#111" textLength="155.8" lengthAdjust="spacing">DG-18:1-20:4</text>
<line x1="137.6" y1="1426.7" x2="206.4" y2="1426.7" stroke="#2b2b2b" stroke-width="1.8"/>
<text x="301.7" y="1349.2" font-size="23.7" fill="#111" textLength="154.7" lengthAdjust="spacing">DG-16:0-20:4</text>
<line x1="459.6" y1="1339.6" x2="485.2" y2="1343.0" stroke="#2b2b2b" stroke-width="1.8"/>
<text x="281.1" y="1469.4" font-size="23.7" fill="#111" textLength="155.0" lengthAdjust="spacing">DG-18:1-22:5</text>
<line x1="434.8" y1="1462.0" x2="450.9" y2="1462.5" stroke="#2b2b2b" stroke-width="1.8"/>
<text x="207.8" y="1659.5" font-size="23.7" fill="#111" textLength="209.6" lengthAdjust="spacing">TG-16:0-17:0-18:1</text>
<line x1="177.0" y1="1672.9" x2="203.1" y2="1653.0" stroke="#2b2b2b" stroke-width="1.8"/>
<text x="205.4" y="1688.6" font-size="23.7" fill="#111" textLength="207.8" lengthAdjust="spacing">TG-17:0-18:1-18:1</text>
<line x1="160.9" y1="1701.0" x2="199.4" y2="1681.1" stroke="#2b2b2b" stroke-width="1.8"/>
<text x="208.6" y="1719.6" font-size="23.7" fill="#111" textLength="208.8" lengthAdjust="spacing">TG-18:0-18:1-18:1</text>
<line x1="163.4" y1="1714.6" x2="203.1" y2="1712.1" stroke="#2b2b2b" stroke-width="1.8"/>
<text x="207.8" y="1752.7" font-size="23.7" fill="#111" textLength="209.6" lengthAdjust="spacing">TG-18:1-18:1-18:1</text>
<line x1="164.1" y1="1745.2" x2="203.1" y2="1745.2" stroke="#2b2b2b" stroke-width="1.8"/>
<text x="203.6" y="1790.4" font-size="23.7" fill="#111" textLength="209.6" lengthAdjust="spacing">TG-18:1-18:1-18:2</text>
<line x1="174.8" y1="1770.5" x2="195.9" y2="1779.2" stroke="#2b2b2b" stroke-width="1.8"/>
<text x="203.6" y="1834.4" font-size="23.7" fill="#111" textLength="209.6" lengthAdjust="spacing">TG-18:1-18:1-22:6</text>
<line x1="153.5" y1="1814.0" x2="195.9" y2="1824.9" stroke="#2b2b2b" stroke-width="1.8"/>
<text x="681.7" y="780.6" font-size="23.7" fill="#111" textLength="54.9" lengthAdjust="spacing">DHC</text>
<line x1="665.3" y1="774.1" x2="681.9" y2="770.6" stroke="#2b2b2b" stroke-width="1.8"/>
<text x="695.3" y="823.3" font-size="23.7" fill="#111" textLength="53.8" lengthAdjust="spacing">GM3</text>
<line x1="675.7" y1="813.9" x2="689.4" y2="813.9" stroke="#2b2b2b" stroke-width="1.8"/>
<text x="688.6" y="925.2" font-size="23.7" fill="#111" textLength="59.2" lengthAdjust="spacing">MHC</text>
<line x1="657.1" y1="914.7" x2="673.2" y2="914.7" stroke="#2b2b2b" stroke-width="1.8"/>
<text x="686.6" y="961.9" font-size="23.7" fill="#111" textLength="66.7" lengthAdjust="spacing">PC(O)</text>
<line x1="654.6" y1="951.2" x2="671.3" y2="951.2" stroke="#2b2b2b" stroke-width="1.8"/>
<text x="456.1" y="974.3" font-size="23.7" fill="#111" textLength="62.0" lengthAdjust="spacing">PC(P)</text>
<line x1="521.7" y1="965.9" x2="546.1" y2="971.4" stroke="#2b2b2b" stroke-width="1.8"/>
<text x="646.2" y="1035.6" font-size="23.7" fill="#111" textLength="63.9" lengthAdjust="spacing">PE(O)</text>
<line x1="615.6" y1="1028.0" x2="631.5" y2="1025.3" stroke="#2b2b2b" stroke-width="1.8"/>
<text x="664.3" y="1080.0" font-size="23.7" fill="#111" textLength="59.9" lengthAdjust="spacing">PE(P)</text>
<line x1="638.0" y1="1066.6" x2="652.1" y2="1066.6" stroke="#2b2b2b" stroke-width="1.8"/>
<text x="604.2" y="1144.1" font-size="23.7" fill="#111" textLength="35.1" lengthAdjust="spacing">SM</text>
<line x1="581.3" y1="1134.6" x2="595.0" y2="1134.6" stroke="#2b2b2b" stroke-width="1.8"/>
<text x="656.8" y="1203.7" font-size="23.7" fill="#111" textLength="50.0" lengthAdjust="spacing">THC</text>
<line x1="636.0" y1="1192.8" x2="647.7" y2="1192.8" stroke="#2b2b2b" stroke-width="1.8"/>
<text x="441.2" y="1211.1" font-size="23.7" fill="#111" textLength="69.4" lengthAdjust="spacing">dhCer</text>
<line x1="517.2" y1="1205.7" x2="571.9" y2="1217.6" stroke="#2b2b2b" stroke-width="1.8"/>
<text x="656.8" y="1637.7" font-size="23.7" fill="#111" textLength="210.5" lengthAdjust="spacing">TG-16:0-18:2-18:2</text>
<line x1="864.8" y1="1625.4" x2="911.5" y2="1622.2" stroke="#2b2b2b" stroke-width="1.8"/>
<text x="1074.9" y="719.0" font-size="23.7" fill="#111" textLength="38.8" lengthAdjust="spacing">Cer</text>
<line x1="939.3" y1="716.5" x2="1061.0" y2="710.5" stroke="#2b2b2b" stroke-width="1.8"/>
<line x1="1118.6" y1="711.0" x2="1237.4" y2="716.5" stroke="#2b2b2b" stroke-width="1.8"/>
<text x="1037.4" y="753.0" font-size="23.7" fill="#111" textLength="38.1" lengthAdjust="spacing">DG</text>
<line x1="1002.9" y1="749.8" x2="1025.7" y2="744.8" stroke="#2b2b2b" stroke-width="1.8"/>
<text x="989.0" y="851.9" font-size="23.7" fill="#111" textLength="45.0" lengthAdjust="spacing">LPE</text>
<line x1="954.9" y1="846.7" x2="975.5" y2="840.9" stroke="#2b2b2b" stroke-width="1.8"/>
<text x="1073.6" y="889.9" font-size="23.7" fill="#111" textLength="72.4" lengthAdjust="spacing">LPE(P)</text>
<line x1="950.7" y1="877.7" x2="1073.0" y2="877.7" stroke="#2b2b2b" stroke-width="1.8"/>
<line x1="1152.2" y1="877.7" x2="1239.8" y2="877.7" stroke="#2b2b2b" stroke-width="1.8"/>
<text x="1023.7" y="1017.0" font-size="23.7" fill="#111" textLength="31.4" lengthAdjust="spacing">PE</text>
<line x1="1003.4" y1="1008.1" x2="1017.8" y2="1008.1" stroke="#2b2b2b" stroke-width="1.8"/>
<text x="975.8" y="1077.8" font-size="23.7" fill="#111" textLength="59.4" lengthAdjust="spacing">PE(P)</text>
<line x1="950.0" y1="1064.6" x2="964.1" y2="1064.6" stroke="#2b2b2b" stroke-width="1.8"/>
<text x="994.4" y="1114.8" font-size="23.7" fill="#111" textLength="22.2" lengthAdjust="spacing">PI</text>
<line x1="976.0" y1="1102.8" x2="988.0" y2="1102.8" stroke="#2b2b2b" stroke-width="1.8"/>
<text x="1070.0" y="1267.8" font-size="23.7" fill="#111" textLength="154.6" lengthAdjust="spacing">DG-16:0-16:0</text>
<line x1="1226.7" y1="1255.9" x2="1304.4" y2="1268.3" stroke="#2b2b2b" stroke-width="1.8"/>
<text x="1042.1" y="1295.6" font-size="23.7" fill="#111" textLength="153.6" lengthAdjust="spacing">DG-16:0-18:1</text>
<line x1="1019.0" y1="1291.1" x2="1037.4" y2="1286.4" stroke="#2b2b2b" stroke-width="1.8"/>
<text x="1037.9" y="1328.4" font-size="23.7" fill="#111" textLength="155.3" lengthAdjust="spacing">DG-16:0-18:2</text>
<line x1="1012.8" y1="1316.7" x2="1031.9" y2="1318.0" stroke="#2b2b2b" stroke-width="1.8"/>
<text x="1066.2" y="1359.0" font-size="23.7" fill="#111" textLength="155.6" lengthAdjust="spacing">DG-16:0-20:4</text>
<line x1="1222.9" y1="1349.3" x2="1282.1" y2="1349.3" stroke="#2b2b2b" stroke-width="1.8"/>
<text x="1026.0" y="1402.4" font-size="23.7" fill="#111" textLength="155.3" lengthAdjust="spacing">DG-18:1-20:2</text>
<line x1="994.2" y1="1380.8" x2="1017.0" y2="1388.8" stroke="#2b2b2b" stroke-width="1.8"/>
<text x="1072.4" y="1456.1" font-size="23.7" fill="#111" textLength="153.8" lengthAdjust="spacing">DG-18:1-20:4</text>
<line x1="1222.9" y1="1444.1" x2="1263.2" y2="1434.0" stroke="#2b2b2b" stroke-width="1.8"/>
<text x="1020.3" y="1504.0" font-size="23.7" fill="#111" textLength="207.8" lengthAdjust="spacing">TG-14:0-18:0-18:1</text>
<line x1="1227.6" y1="1494.3" x2="1289.3" y2="1493.0" stroke="#2b2b2b" stroke-width="1.8"/>
<text x="965.1" y="1531.3" font-size="23.7" fill="#111" textLength="210.0" lengthAdjust="spacing">TG-16:0-16:0-16:0</text>
<line x1="1173.8" y1="1523.1" x2="1295.5" y2="1516.6" stroke="#2b2b2b" stroke-width="1.8"/>
<text x="976.5" y="1559.3" font-size="23.7" fill="#111" textLength="207.1" lengthAdjust="spacing">TG-16:0-16:0-18:1</text>
<line x1="1182.5" y1="1551.9" x2="1265.2" y2="1549.9" stroke="#2b2b2b" stroke-width="1.8"/>
<text x="987.3" y="1585.9" font-size="23.7" fill="#111" textLength="210.6" lengthAdjust="spacing">TG-16:0-16:0-18:2</text>
<line x1="1194.4" y1="1578.0" x2="1245.8" y2="1573.5" stroke="#2b2b2b" stroke-width="1.8"/>
<text x="1010.0" y="1613.8" font-size="23.7" fill="#111" textLength="207.5" lengthAdjust="spacing">TG-16:0-18:0-18:1</text>
<line x1="1215.0" y1="1603.6" x2="1279.3" y2="1593.1" stroke="#2b2b2b" stroke-width="1.8"/>
<text x="1000.6" y="1645.8" font-size="23.7" fill="#111" textLength="209.5" lengthAdjust="spacing">TG-16:0-18:1-18:1</text>
<line x1="1207.5" y1="1634.6" x2="1252.0" y2="1616.0" stroke="#2b2b2b" stroke-width="1.8"/>
<text x="1008.1" y="1704.2" font-size="23.7" fill="#111" textLength="210.7" lengthAdjust="spacing">TG-16:1-16:1-18:0</text>
<line x1="1216.2" y1="1689.8" x2="1267.2" y2="1664.7" stroke="#2b2b2b" stroke-width="1.8"/>
<text x="1169.3" y="689.9" font-size="23.7" fill="#111" textLength="52.5" lengthAdjust="spacing">COH</text>
<line x1="1226.7" y1="677.7" x2="1255.7" y2="682.5" stroke="#2b2b2b" stroke-width="1.8"/>
<text x="1168.0" y="788.0" font-size="23.7" fill="#111" textLength="55.0" lengthAdjust="spacing">DHC</text>
<line x1="1221.7" y1="778.6" x2="1251.5" y2="777.6" stroke="#2b2b2b" stroke-width="1.8"/>
<text x="1168.0" y="823.3" font-size="23.7" fill="#111" textLength="53.8" lengthAdjust="spacing">GM3</text>
<line x1="1223.0" y1="810.9" x2="1286.3" y2="813.9" stroke="#2b2b2b" stroke-width="1.8"/>
<text x="1162.3" y="938.8" font-size="23.7" fill="#111" textLength="58.2" lengthAdjust="spacing">MHC</text>
<line x1="1219.2" y1="928.6" x2="1258.2" y2="920.2" stroke="#2b2b2b" stroke-width="1.8"/>
<text x="1327.0" y="1143.3" font-size="23.7" fill="#111" textLength="35.1" lengthAdjust="spacing">SM</text>
<line x1="1304.9" y1="1134.1" x2="1318.6" y2="1134.1" stroke="#2b2b2b" stroke-width="1.8"/>
<text x="1303.4" y="1185.1" font-size="23.7" fill="#111" textLength="33.1" lengthAdjust="spacing">TG</text>
<line x1="1283.1" y1="1167.7" x2="1295.0" y2="1171.9" stroke="#2b2b2b" stroke-width="1.8"/>
<text x="1151.9" y="1211.1" font-size="23.7" fill="#111" textLength="69.9" lengthAdjust="spacing">dhCer</text>
<line x1="1222.9" y1="1206.7" x2="1278.8" y2="1218.1" stroke="#2b2b2b" stroke-width="1.8"/>
<text x="21.0" y="1879.7" font-size="23.7" fill="#111" textLength="44.3" lengthAdjust="spacing">-0.8</text>
<text x="180.5" y="1879.7" font-size="23.7" fill="#111" textLength="13.8" lengthAdjust="spacing">0</text>
<text x="311.2" y="1879.7" font-size="23.7" fill="#111" textLength="36.8" lengthAdjust="spacing">0.8</text>
<text x="362.3" y="1879.7" font-size="23.7" fill="#111" textLength="44.3" lengthAdjust="spacing">-0.8</text>
<text x="528.9" y="1879.7" font-size="23.7" fill="#111" textLength="14.3" lengthAdjust="spacing">0</text>
<text x="667.5" y="1879.7" font-size="23.7" fill="#111" textLength="37.2" lengthAdjust="spacing">0.8</text>
<text x="718.8" y="1879.7" font-size="23.7" fill="#111" textLength="45.0" lengthAdjust="spacing">-0.8</text>
<text x="879.7" y="1879.7" font-size="23.7" fill="#111" textLength="14.2" lengthAdjust="spacing">0</text>
<text x="1014.6" y="1879.7" font-size="23.7" fill="#111" textLength="36.0" lengthAdjust="spacing">0.8</text>
<text x="1067.7" y="1879.7" font-size="23.7" fill="#111" textLength="44.9" lengthAdjust="spacing">-0.8</text>
<text x="1226.1" y="1879.7" font-size="23.7" fill="#111" textLength="14.2" lengthAdjust="spacing">0</text>
<text x="1358.1" y="1879.7" font-size="23.7" fill="#111" textLength="37.7" lengthAdjust="spacing">0.8</text>
<text x="580.8" y="1917.0" font-size="23.7" fill="#111" textLength="303.5" lengthAdjust="spacing">Log<tspan font-size="14.5" dy="6">2</tspan><tspan dy="-6">(pAdV:PSMD9/control)</tspan></text>
<text transform="translate(23 1081.3) rotate(-90)" font-size="23.9" fill="#111" textLength="261" lengthAdjust="spacing">total lipid for each class</text>
<text transform="translate(23 1473.5) rotate(-90)" font-size="23.9" fill="#111" textLength="239.5" lengthAdjust="spacing">individual DG species</text>
<text transform="translate(23 1785.4) rotate(-90)" font-size="23.9" fill="#111" textLength="237.5" lengthAdjust="spacing">individual TG species</text>
<circle cx="1060.7" cy="1954.0" r="2.7" fill="#747474"/>
<circle cx="1077.1" cy="1954.0" r="3.15" fill="none" stroke="#747474" stroke-width="2.5"/>
<circle cx="1097.2" cy="1954.0" r="5.05" fill="none" stroke="#747474" stroke-width="2.9"/>
<circle cx="1120.7" cy="1954.0" r="6.45" fill="none" stroke="#747474" stroke-width="3.1"/>
<circle cx="1148.1" cy="1954.0" r="8.85" fill="none" stroke="#747474" stroke-width="3.3"/>
<circle cx="1184.0" cy="1954.0" r="13.50" fill="none" stroke="#747474" stroke-width="3.6"/>
<circle cx="1228.4" cy="1954.0" r="20.1" fill="#747474"/>
<circle cx="1279.9" cy="1954.0" r="23.7" fill="#747474"/>
<circle cx="1339.3" cy="1954.0" r="27.4" fill="#747474"/>
<text x="994.3" y="1963.7" font-size="23.7" fill="#111" textLength="48.5" lengthAdjust="spacing">0.01</text>
<text x="1374.3" y="1963.7" font-size="23.7" fill="#111" textLength="34.8" lengthAdjust="spacing">5.0</text>
<path d="M1203.8 1956.5 V1909.5 H1222" fill="none" stroke="#111" stroke-width="1.8"/>
<path d="M1229.2 1909.5 L1220.3 1905.2 L1220.3 1913.8 Z" fill="#111"/>
<text x="1228.8" y="1915.6" font-size="23.7" fill="#111" textLength="78.3" lengthAdjust="spacing">q&lt;0.05</text>
<text x="1100.3" y="2012.4" font-size="23.7" fill="#111" textLength="167.5" lengthAdjust="spacing">-Log<tspan font-size="14.5" dy="6">10</tspan><tspan dy="-6">(p-value)</tspan></text>
</svg>
</body></html>
